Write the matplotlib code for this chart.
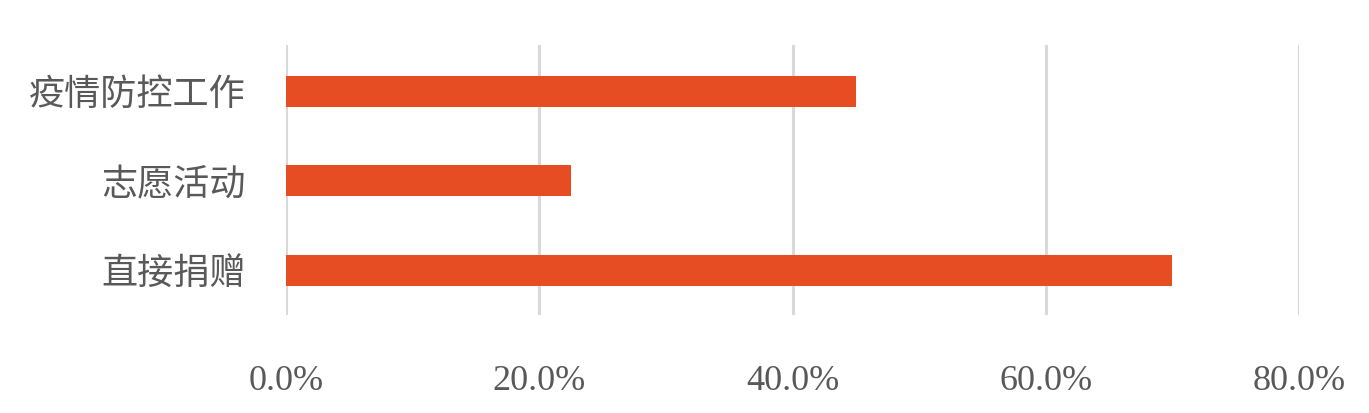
import matplotlib
matplotlib.use("Agg")
import matplotlib.pyplot as plt
from matplotlib.ticker import FuncFormatter

categories = ["直接捐赠", "志愿活动", "疫情防控工作"]
values = [70.0, 22.5, 45.0]
xticks = [0, 20, 40, 60, 80]

bar_color = "#E64D23"
text_color = "#595959"

fig = plt.figure(figsize=(13.69, 4.13), dpi=100)
ax = fig.add_axes([0.2089, 0.2373, 0.74, 0.654])

ax.barh(range(len(categories)), values, height=0.35, color=bar_color, zorder=3)

ax.set_xlim(0, 80)
ax.set_ylim(-0.5, 2.52)
ax.set_xticks(xticks)
ax.xaxis.set_major_formatter(FuncFormatter(lambda v, p: "{:.1f}%".format(v)))
ax.set_yticks(range(len(categories)))
ax.set_yticklabels(categories)

ax.grid(axis="x", color="#D9D9D9", linewidth=2.2, zorder=0)
for s in ax.spines.values():
	s.set_visible(False)
ax.tick_params(axis="both", length=0, colors=text_color)
ax.tick_params(axis="x", pad=36)
ax.tick_params(axis="y", pad=29)

for lab in ax.get_xticklabels():
	lab.set_family(["Liberation Serif", "DejaVu Serif"])
	lab.set_fontsize(26)
for lab in ax.get_yticklabels():
	lab.set_family(["Noto Sans CJK SC", "DejaVu Sans"])
	lab.set_fontsize(26)
	lab.set_fontweight("light")

fig.savefig("out.png", dpi=100)
